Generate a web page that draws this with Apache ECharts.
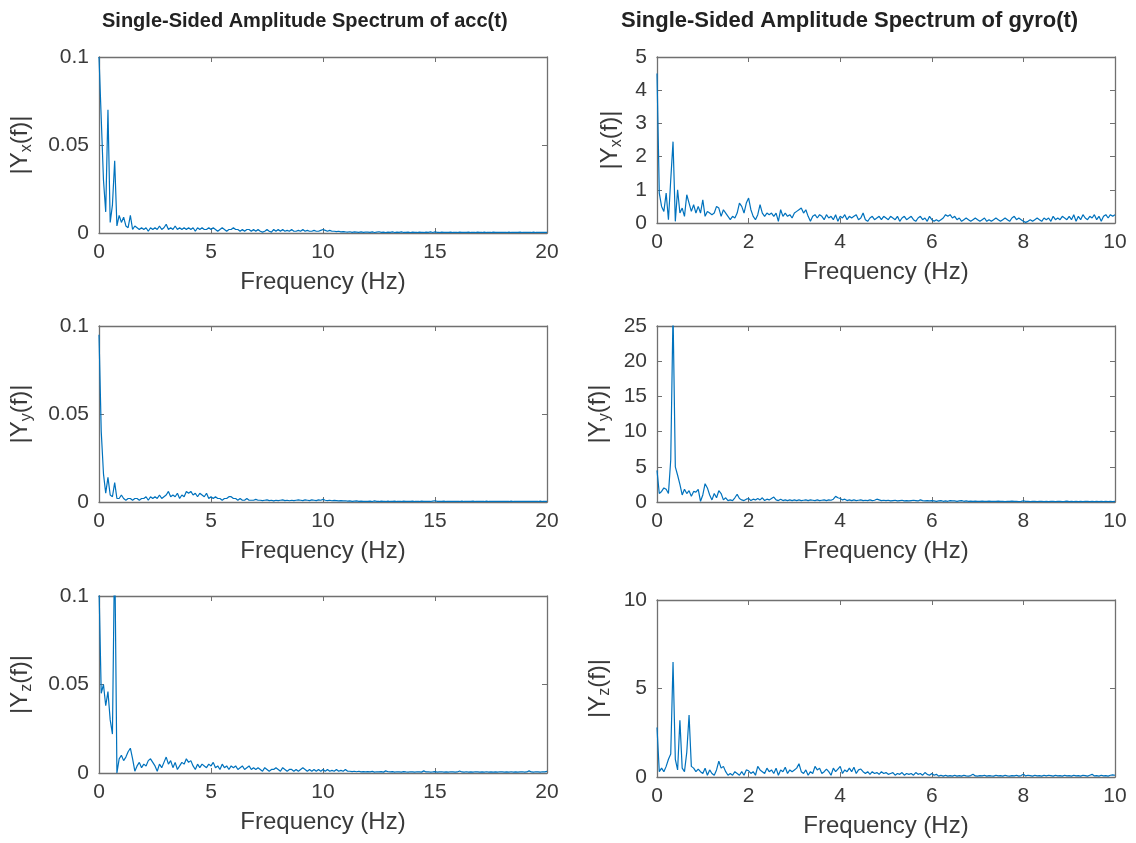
<!DOCTYPE html>
<html>
<head>
<meta charset="utf-8">
<script src="https://cdn.jsdelivr.net/npm/echarts@6/dist/echarts.min.js"></script>
<style>html,body{margin:0;padding:0;background:#fff}#c{width:1136px;height:843px}</style>
</head>
<body>
<div id="c"></div>
<script>
// Frequency grids (sampling steps, Hz)
const accStep = 0.1;   // acc spectra: 0..20 Hz
const gyroStep = 0.05; // gyro spectra: 0..10 Hz

const titles = ['Single-Sided Amplitude Spectrum of acc(t)', 'Single-Sided Amplitude Spectrum of gyro(t)'];
const axisSubs = ['x', 'y', 'z'];
const xName = 'Frequency (Hz)';

// |Y(f)| of acc(t), 0..20 Hz step 0.1
const accX = [
0.100,0.065,0.030,0.012,0.070,0.006,0.016,0.041,0.004,0.010,
0.006,0.009,0.004,0.003,0.010,0.002,0.004,0.003,0.002,0.003,
0.002,0.003,0.001,0.003,0.002,0.003,0.002,0.004,0.002,0.003,
0.005,0.002,0.003,0.002,0.004,0.002,0.003,0.002,0.003,0.002,
0.003,0.002,0.003,0.001,0.003,0.002,0.003,0.002,0.002,0.003,
0.002,0.003,0.002,0.001,0.002,0.003,0.002,0.001,0.002,0.002,
0.003,0.002,0.002,0.001,0.002,0.001,0.002,0.002,0.001,0.002,
0.001,0.002,0.001,0.0005,0.001,0.002,0.001,0.0005,0.002,0.001,
0.002,0.001,0.002,0.001,0.0015,0.001,0.002,0.001,0.001,0.0015,
0.001,0.002,0.001,0.0015,0.001,0.001,0.0015,0.001,0.001,0.0015,
0.002,0.0015,0.001,0.0015,0.001,0.001,0.0008,0.001,0.0006,0.0008,
0.0006,0.0005,0.0007,0.0004,0.0006,0.0005,0.0004,0.0006,0.0004,0.0005,
0.0005,0.0004,0.0006,0.0003,0.0005,0.0007,0.0004,0.0005,0.0003,0.0005,
0.0004,0.0006,0.0003,0.0005,0.0004,0.0006,0.0003,0.0004,0.0005,0.0003,
0.0005,0.0004,0.0003,0.0005,0.0004,0.0003,0.0005,0.0004,0.0006,0.0003,
0.0006,0.0004,0.0003,0.0005,0.0004,0.0003,0.0004,0.0005,0.0003,0.0004,
0.0003,0.0005,0.0004,0.0003,0.0004,0.0005,0.0003,0.0004,0.0003,0.0005,
0.0004,0.0003,0.0005,0.0003,0.0004,0.0003,0.0005,0.0004,0.0003,0.0004,
0.0003,0.0004,0.0003,0.0005,0.0003,0.0004,0.0003,0.0004,0.0005,0.0003,
0.0004,0.0003,0.0004,0.0003,0.0005,0.0003,0.0004,0.0003,0.0004,0.0003,
0.0004];
const accY = [
0.095,0.040,0.016,0.005,0.014,0.004,0.003,0.011,0.002,0.002,
0.004,0.002,0.001,0.002,0.002,0.001,0.002,0.002,0.001,0.002,
0.002,0.003,0.001,0.003,0.002,0.003,0.002,0.004,0.002,0.003,
0.004,0.006,0.003,0.004,0.003,0.005,0.002,0.004,0.003,0.006,
0.005,0.006,0.004,0.005,0.003,0.005,0.004,0.003,0.005,0.002,
0.003,0.002,0.003,0.002,0.002,0.001,0.002,0.002,0.003,0.003,
0.002,0.002,0.001,0.002,0.001,0.001,0.002,0.001,0.001,0.001,
0.0015,0.001,0.001,0.0008,0.001,0.0012,0.0008,0.001,0.0006,0.001,
0.0008,0.001,0.0012,0.0008,0.001,0.0007,0.001,0.0008,0.001,0.0012,
0.001,0.0008,0.0012,0.001,0.0008,0.0012,0.001,0.0008,0.0012,0.001,
0.0015,0.001,0.0008,0.001,0.0007,0.0009,0.0008,0.0006,0.0008,0.0006,
0.0007,0.0005,0.0006,0.0004,0.0005,0.0006,0.0004,0.0005,0.0004,0.0003,
0.0004,0.0005,0.0003,0.0006,0.0004,0.0003,0.0005,0.0004,0.0003,0.0005,
0.0003,0.0004,0.0005,0.0003,0.0004,0.0003,0.0005,0.0004,0.0003,0.0004,
0.0005,0.0003,0.0004,0.0003,0.0005,0.0004,0.0003,0.0004,0.0003,0.0005,
0.0007,0.0004,0.0003,0.0004,0.0005,0.0003,0.0004,0.0003,0.0004,0.0003,
0.0004,0.0003,0.0005,0.0003,0.0004,0.0003,0.0004,0.0005,0.0003,0.0004,
0.0003,0.0004,0.0003,0.0005,0.0003,0.0004,0.0003,0.0004,0.0003,0.0004,
0.0004,0.0003,0.0004,0.0003,0.0005,0.0003,0.0004,0.0003,0.0004,0.0003,
0.0003,0.0004,0.0003,0.0004,0.0003,0.0004,0.0003,0.0005,0.0003,0.0004,
0.0004];
const accZ = [
0.105,0.045,0.050,0.038,0.046,0.030,0.022,0.130,0.000,0.008,
0.010,0.007,0.009,0.012,0.014,0.008,0.001,0.004,0.006,0.003,
0.005,0.004,0.007,0.008,0.006,0.004,0.001,0.005,0.003,0.006,
0.009,0.005,0.007,0.003,0.006,0.002,0.004,0.006,0.005,0.008,
0.006,0.007,0.004,0.002,0.005,0.003,0.005,0.004,0.003,0.005,
0.004,0.006,0.003,0.004,0.002,0.005,0.003,0.004,0.002,0.004,
0.003,0.004,0.002,0.003,0.004,0.002,0.003,0.004,0.002,0.003,
0.002,0.003,0.002,0.001,0.003,0.002,0.001,0.002,0.002,0.003,
0.002,0.001,0.003,0.002,0.001,0.002,0.002,0.001,0.002,0.001,
0.002,0.003,0.002,0.001,0.002,0.001,0.002,0.001,0.002,0.001,
0.002,0.001,0.002,0.001,0.0015,0.001,0.002,0.001,0.0015,0.001,
0.002,0.001,0.001,0.0008,0.001,0.0007,0.001,0.0006,0.0008,0.0006,
0.0008,0.0006,0.0009,0.0005,0.0007,0.0006,0.0008,0.0005,0.0012,0.0007,
0.0006,0.0008,0.0005,0.0007,0.0006,0.0005,0.0008,0.0006,0.0005,0.0007,
0.0006,0.0005,0.0007,0.0006,0.0005,0.0012,0.0006,0.0007,0.0005,0.0006,
0.0008,0.0005,0.0006,0.0007,0.0005,0.0006,0.0005,0.0007,0.0006,0.0005,
0.0006,0.0011,0.0006,0.0005,0.0007,0.0005,0.0006,0.0005,0.0007,0.0006,
0.0005,0.0006,0.0005,0.0007,0.0005,0.0006,0.0005,0.0006,0.0005,0.0007,
0.0006,0.0005,0.0006,0.0005,0.0007,0.0005,0.0006,0.0005,0.0006,0.0007,
0.0005,0.0006,0.0012,0.0006,0.0005,0.0007,0.0006,0.0005,0.0007,0.0006,
0.0009];

// |Y(f)| of gyro(t), 0..10 Hz step 0.05
const gyroX = [
4.5,0.9,0.5,0.35,0.9,0.1,1.3,2.45,0.05,1.0,
0.3,0.45,0.2,0.85,0.6,0.35,0.55,0.3,0.5,0.3,
0.7,0.2,0.35,0.3,0.25,0.3,0.5,0.45,0.2,0.4,
0.3,0.2,0.1,0.2,0.15,0.3,0.6,0.5,0.3,0.6,
0.75,0.4,0.2,0.1,0.25,0.55,0.3,0.2,0.3,0.25,
0.3,0.2,0.3,0.05,0.4,0.2,0.3,0.2,0.25,0.15,
0.3,0.35,0.4,0.45,0.3,0.4,0.2,0.05,0.2,0.25,
0.15,0.25,0.2,0.1,0.25,0.15,0.2,0.1,0.25,0.05,
0.2,0.15,0.25,0.1,0.2,0.15,0.2,0.25,0.1,0.15,
0.3,0.1,0.05,0.15,0.2,0.1,0.15,0.2,0.1,0.2,
0.15,0.1,0.2,0.15,0.1,0.2,0.05,0.15,0.2,0.1,
0.15,0.2,0.1,0.05,0.15,0.2,0.1,0.15,0.05,0.2,
0.1,0.05,0.1,0.05,0.1,0.15,0.25,0.2,0.25,0.15,
0.2,0.1,0.15,0.05,0.1,0.15,0.1,0.05,0.1,0.15,
0.1,0.05,0.1,0.15,0.05,0.1,0.05,0.1,0.15,0.1,
0.05,0.1,0.15,0.1,0.05,0.15,0.2,0.1,0.15,0.1,
0.05,0.02,0.05,0.1,0.05,0.1,0.15,0.1,0.05,0.15,
0.1,0.15,0.05,0.2,0.1,0.15,0.1,0.2,0.15,0.1,
0.2,0.1,0.25,0.05,0.2,0.1,0.25,0.15,0.1,0.2,
0.15,0.25,0.1,0.2,0.05,0.2,0.25,0.15,0.25,0.2,
0.25];
const gyroY = [
4.5,1.2,1.5,2.0,1.8,1.2,6.0,27,5.0,3.8,
2.5,1.0,1.8,1.2,1.6,0.8,1.5,1.4,1.8,0.1,
1.0,2.6,2.0,1.0,0.3,1.2,0.6,1.6,1.2,0.3,
0.6,0.2,0.3,0.2,0.6,1.1,0.5,0.3,0.2,0.4,
0.5,0.2,0.4,0.3,0.5,0.3,0.6,0.2,0.4,0.3,
0.5,0.7,0.3,0.2,0.4,0.2,0.3,0.2,0.3,0.2,
0.3,0.2,0.3,0.2,0.25,0.3,0.2,0.3,0.25,0.2,
0.3,0.2,0.25,0.3,0.2,0.3,0.25,0.4,0.8,0.6,
0.5,0.3,0.4,0.2,0.3,0.2,0.3,0.2,0.25,0.3,
0.2,0.25,0.2,0.3,0.2,0.25,0.4,0.3,0.2,0.25,
0.2,0.25,0.15,0.2,0.25,0.15,0.2,0.25,0.15,0.2,
0.15,0.2,0.25,0.2,0.15,0.3,0.2,0.15,0.2,0.15,
0.2,0.15,0.1,0.15,0.2,0.1,0.15,0.1,0.2,0.15,
0.15,0.1,0.15,0.2,0.1,0.15,0.1,0.12,0.08,0.12,
0.1,0.08,0.12,0.1,0.08,0.12,0.1,0.08,0.1,0.12,
0.08,0.1,0.06,0.1,0.08,0.12,0.08,0.1,0.06,0.1,
0.15,0.08,0.1,0.06,0.08,0.1,0.06,0.08,0.1,0.06,
0.08,0.06,0.1,0.08,0.06,0.08,0.1,0.06,0.08,0.12,
0.06,0.08,0.06,0.1,0.06,0.08,0.06,0.08,0.1,0.06,
0.08,0.06,0.1,0.06,0.08,0.06,0.08,0.06,0.08,0.06,
0.08];
const gyroZ = [
2.8,0.3,0.5,0.3,0.6,1.0,1.3,6.5,1.0,0.4,
3.2,0.5,0.3,1.4,3.5,0.6,0.5,0.3,0.45,0.3,
0.2,0.5,0.1,0.4,0.2,0.1,0.4,0.9,0.5,0.6,
0.3,0.1,0.2,0.1,0.3,0.2,0.1,0.3,0.1,0.4,
0.35,0.2,0.3,0.1,0.6,0.4,0.3,0.2,0.5,0.3,
0.4,0.2,0.5,0.1,0.4,0.3,0.55,0.2,0.4,0.3,
0.4,0.5,0.75,0.3,0.2,0.4,0.1,0.3,0.2,0.6,
0.4,0.5,0.2,0.3,0.45,0.3,0.1,0.5,0.3,0.45,
0.6,0.2,0.4,0.3,0.5,0.3,0.55,0.2,0.4,0.45,
0.3,0.2,0.3,0.15,0.3,0.2,0.25,0.15,0.3,0.2,
0.25,0.15,0.2,0.25,0.1,0.2,0.15,0.25,0.1,0.2,
0.15,0.2,0.1,0.25,0.15,0.2,0.1,0.25,0.15,0.1,
0.2,0.1,0.15,0.05,0.1,0.05,0.1,0.05,0.08,0.05,
0.1,0.05,0.08,0.05,0.1,0.06,0.05,0.08,0.15,0.06,
0.05,0.08,0.06,0.1,0.05,0.08,0.06,0.05,0.1,0.06,
0.08,0.05,0.1,0.06,0.05,0.08,0.06,0.1,0.05,0.08,
0.15,0.06,0.1,0.08,0.05,0.1,0.06,0.08,0.05,0.1,
0.06,0.1,0.08,0.05,0.1,0.06,0.08,0.05,0.1,0.06,
0.08,0.05,0.1,0.06,0.08,0.05,0.1,0.08,0.05,0.1,
0.15,0.06,0.08,0.05,0.1,0.06,0.08,0.05,0.1,0.12,
0.1];

const LINE = '#0072BD';
const BOX = '#707070';
const TXT = '#3a3a3a';
const FONT = '"Liberation Sans", Arial, Helvetica, sans-serif';

const panels = [
  {g:{left:99, top:57, width:448, height:176}, d:accX, step:accStep, xmax:20, xint:5, ymax:0.1, yint:0.05, sub:axisSubs[0], gap:64},
  {g:{left:657, top:57, width:458, height:166}, d:gyroX, step:gyroStep, xmax:10, xint:2, ymax:5, yint:1, sub:axisSubs[0], gap:32},
  {g:{left:99, top:326, width:448, height:176}, d:accY, step:accStep, xmax:20, xint:5, ymax:0.1, yint:0.05, sub:axisSubs[1], gap:64},
  {g:{left:657, top:326, width:458, height:176}, d:gyroY, step:gyroStep, xmax:10, xint:2, ymax:25, yint:5, sub:axisSubs[1], gap:44},
  {g:{left:99, top:596, width:448, height:177}, d:accZ, step:accStep, xmax:20, xint:5, ymax:0.1, yint:0.05, sub:axisSubs[2], gap:64},
  {g:{left:657, top:600, width:458, height:177}, d:gyroZ, step:gyroStep, xmax:10, xint:2, ymax:10, yint:5, sub:axisSubs[2], gap:44}
];

const grid = [], xAxis = [], yAxis = [], series = [];
panels.forEach((p, i) => {
  grid.push(Object.assign({containLabel:false}, p.g));
  const common = {
    gridIndex:i, type:'value', min:0,
    axisLine:{show:true, onZero:false, lineStyle:{color:BOX, width:1.3}},
    axisTick:{show:true, inside:true, length:5, lineStyle:{color:BOX, width:1}},
    splitLine:{show:false}
  };
  // bottom x
  xAxis.push(Object.assign({}, common, {
    position:'bottom', max:p.xmax, interval:p.xint,
    axisLabel:{color:TXT, fontSize:21, fontFamily:FONT, margin:9},
    name:xName, nameLocation:'middle', nameGap:37,
    nameTextStyle:{color:TXT, fontSize:24, fontFamily:FONT}
  }));
  // top x (box + ticks)
  xAxis.push(Object.assign({}, common, {
    position:'top', max:p.xmax, interval:p.xint, axisLabel:{show:false}
  }));
  // left y
  yAxis.push(Object.assign({}, common, {
    position:'left', max:p.ymax, interval:p.yint,
    axisLabel:{color:TXT, fontSize:21, fontFamily:FONT, margin:10},
    name:'|Y{s|' + p.sub + '}(f)|', nameLocation:'middle', nameGap:p.gap,
    nameTextStyle:{color:TXT, fontSize:24, fontFamily:FONT,
      rich:{s:{fontSize:16, fontFamily:FONT, color:TXT, padding:[14,0,0,0]}}}
  }));
  // right y
  yAxis.push(Object.assign({}, common, {
    position:'right', max:p.ymax, interval:p.yint, axisLabel:{show:false}
  }));
  series.push({
    type:'line', xAxisIndex:2*i, yAxisIndex:2*i, showSymbol:false, clip:true,
    lineStyle:{color:LINE, width:1.2}, itemStyle:{color:LINE},
    data:p.d.map((v, k) => [+(k * p.step).toFixed(3), v]),
    silent:true, animation:false
  });
});

const chart = echarts.init(document.getElementById('c'), null, {renderer:'canvas'});
chart.setOption({
  backgroundColor:'#fff',
  animation:false,
  title:[
    {text:titles[0], left:97, top:6, textStyle:{fontSize:20, fontWeight:'bold', color:'#222', fontFamily:FONT}},
    {text:titles[1], left:616, top:5, textStyle:{fontSize:22, fontWeight:'bold', color:'#222', fontFamily:FONT}}
  ],
  grid, xAxis, yAxis, series
});
</script>
</body>
</html>
